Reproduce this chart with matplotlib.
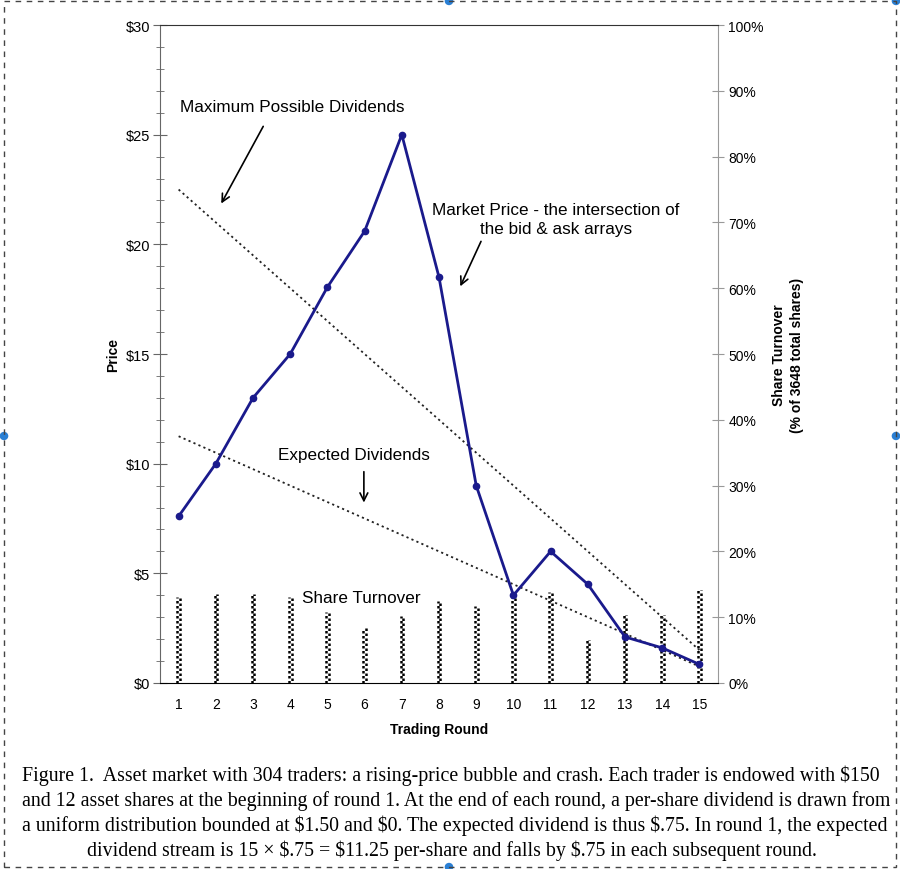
import matplotlib.pyplot as plt
from matplotlib.patches import Rectangle
from matplotlib.ticker import MultipleLocator, FuncFormatter

rounds = list(range(1, 16))
price = [7.6, 10.0, 13.0, 15.0, 18.05, 20.6, 25.0, 18.5, 9.0, 4.0, 6.0, 4.5, 2.1, 1.6, 0.85]
max_div = [22.5, 21.0, 19.5, 18.0, 16.5, 15.0, 13.5, 12.0, 10.5, 9.0, 7.5, 6.0, 4.5, 3.0, 1.5]
exp_div = [11.25, 10.5, 9.75, 9.0, 8.25, 7.5, 6.75, 6.0, 5.25, 4.5, 3.75, 3.0, 2.25, 1.5, 0.75]
turnover = [13.1, 13.5, 13.5, 13.1, 10.8, 8.4, 10.2, 12.5, 11.7, 13.5, 13.8, 6.5, 10.3, 10.3, 14.1]

caption = [
    "Figure 1.  Asset market with 304 traders: a rising-price bubble and crash. Each trader is endowed with \\$150",
    "and 12 asset shares at the beginning of round 1. At the end of each round, a per-share dividend is drawn from",
    "a uniform distribution bounded at \\$1.50 and \\$0. The expected dividend is thus \\$.75. In round 1, the expected",
    "dividend stream is 15 \u00d7 \\$.75 = \\$11.25 per-share and falls by \\$.75 in each subsequent round.",
]

plt.rcParams['font.family'] = ['Liberation Sans', 'DejaVu Sans']

fig = plt.figure(figsize=(9, 8.7), dpi=100)
ax = fig.add_axes([0.1778, 0.2138, 0.62, 0.7563])
ax2 = ax.twinx()

# share turnover "bars": two offset dotted lines give the chain look
xl = [r - 0.035 for r in rounds]
xr = [r + 0.035 for r in rounds]
ax2.vlines(xl, 0, turnover, color='black', linewidth=1.8, linestyle=(0, (1, 1)))
ax2.vlines(xr, 0, turnover, color='black', linewidth=1.8, linestyle=(1, (1, 1)))
ax2.set_ylim(0, 100)
ax2.yaxis.set_major_locator(MultipleLocator(10))
ax2.yaxis.set_major_formatter(FuncFormatter(lambda v, p: f"{v:.0f}%"))
ax2.tick_params(axis='y', direction='inout', length=8, color='#999999', labelsize=10)
ax2.set_ylabel("Share Turnover\n(% of 3648 total shares)", fontweight='bold', fontsize=10,
               labelpad=6, linespacing=1.3)
for s in ['left', 'top', 'bottom']:
    ax2.spines[s].set_visible(False)
ax2.spines['right'].set_color('#999999')

ax.set_zorder(ax2.get_zorder() + 1)
ax.patch.set_visible(False)

ax.plot(rounds, max_div, color='#222222', linestyle=(0, (1.2, 1.8)), linewidth=1.3)
ax.plot(rounds, exp_div, color='#222222', linestyle=(0, (1.2, 1.8)), linewidth=1.3)
ax.plot(rounds, price, color='#1a1a8c', linewidth=2, marker='o', markersize=4.5)

ax.set_xlim(0.5, 15.5)
ax.set_ylim(0, 30)
ax.set_xticks(rounds)
ax.tick_params(axis='x', length=0, labelsize=10, pad=10)
ax.yaxis.set_major_locator(MultipleLocator(5))
ax.yaxis.set_minor_locator(MultipleLocator(1))
ax.yaxis.set_major_formatter(FuncFormatter(lambda v, p: f"${v:.0f}"))
ax.tick_params(axis='y', which='major', direction='inout', length=10, color='#666666',
               labelsize=10.5, pad=2)
ax.tick_params(axis='y', which='minor', direction='inout', length=6, color='#666666')
ax.set_xlabel("Trading Round", fontweight='bold', fontsize=10, labelpad=8)
ax.set_ylabel("Price", fontweight='bold', fontsize=10, labelpad=4)
ax.spines['right'].set_visible(False)
ax.spines['left'].set_color('#666666')
ax.spines['top'].set_color('#333333')

tfs = 12.3
arrow = dict(arrowstyle='->', color='black', lw=1.2, mutation_scale=14)
ax.text(1.04, 26.3, "Maximum Possible Dividends", fontsize=tfs, va='center', ha='left')
ax.annotate("", xy=(2.11, 21.75), xytext=(3.31, 25.49), arrowprops=arrow)
ax.text(11.14, 21.15, "Market Price - the intersection of\nthe bid & ask arrays",
        fontsize=tfs, ha='center', va='center', linespacing=1.35)
ax.annotate("", xy=(8.54, 17.97), xytext=(9.16, 20.25), arrowprops=arrow)
ax.text(5.7, 10.44, "Expected Dividends", fontsize=tfs, ha='center', va='center')
ax.annotate("", xy=(5.98, 8.1), xytext=(5.98, 9.76), arrowprops=arrow)
ax.text(5.92, 3.92, "Share Turnover", fontsize=tfs, ha='center', va='center')

# caption
cap_font = dict(family=['Liberation Serif', 'DejaVu Serif'], fontsize=14.3)
ys = [776, 801, 826, 851]
for i in range(3):
    fig.text(22 / 900, 1 - ys[i] / 870, caption[i], ha='left', va='center', **cap_font)
fig.text(452 / 900, 1 - ys[3] / 870, caption[3], ha='center', va='center', **cap_font)

# dashed selection frame with handles
fig.patches.append(Rectangle((4 / 900, 2 / 870), 892 / 900, 866 / 870, transform=fig.transFigure,
                             fill=False, edgecolor='#444444', linestyle=(0, (4, 4)), linewidth=1))
for hx, hy in [(449, 2), (896, 2), (4, 437), (896, 437), (449, 868)]:
    fig.add_artist(plt.Circle((hx / 900, 1 - hy / 870), 0.004, transform=fig.transFigure,
                              color='#2a7fd4'))

fig.savefig("out.png", dpi=100)
